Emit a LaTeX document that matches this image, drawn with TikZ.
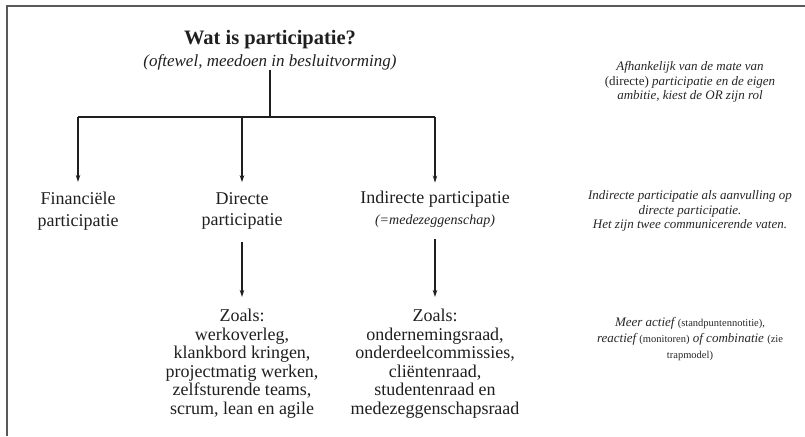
\documentclass[tikz,border=0pt]{standalone}
\usepackage{fontspec}
\setmainfont{Liberation Serif}
\usetikzlibrary{arrows.meta}

\begin{document}
\begin{tikzpicture}[x=1pt,y=-1pt,
    kader/.style={draw=black!65, line width=1.1pt},
    lijn/.style={draw=black!88, line width=1.6pt},
    pijl/.style={lijn, -{Stealth[length=7pt,width=4.5pt]}},
    hoofd/.style={align=center, inner sep=0pt, text=black!88, font=\fontsize{18}{18.5}\selectfont},
    zij/.style={align=center, inner sep=0pt, text=black!85, font=\fontsize{13}{14.5}\selectfont\itshape}]
  \useasboundingbox (0,0) rectangle (805,436);
  \draw [kader] (7,436) -- (7,6) -- (805,6); % frame

  \node [hoofd, font=\fontsize{20.5}{22}\selectfont\bfseries] (titel) at (270,40) {Wat is participatie?};
  \node [hoofd, font=\fontsize{17}{18}\selectfont\itshape] (sub) at (270,62) {(oftewel, meedoen in besluitvorming)};

  \coordinate (split) at (270,117);
  \coordinate (links) at (78,117);
  \coordinate (midden) at (242,117);
  \coordinate (rechts) at (435,117);

  \node [hoofd, font=\fontsize{18}{21.5}\selectfont] (fin) at (78,211) {Financiële\\participatie};
  \node [hoofd, font=\fontsize{18}{21.5}\selectfont] (dir) at (242,211) {Directe\\participatie};
  \node [hoofd, font=\fontsize{18}{21}\selectfont] (ind) at (435,209) {Indirecte participatie\\{\fontsize{14}{16}\selectfont\itshape (=medezeggenschap)}};

  \node [hoofd, anchor=north] (voorbdir) at (242,309) {Zoals:\\werkoverleg,\\klankbord kringen,\\projectmatig werken,\\zelfsturende teams,\\scrum, lean en agile};
  \node [hoofd, anchor=north] (voorbind) at (435,309) {Zoals:\\ondernemingsraad,\\onderdeelcommissies,\\cliëntenraad,\\studentenraad en\\medezeggenschapsraad};

  \node [zij] (rol) at (690,82) {Afhankelijk van de mate van\\{\upshape (directe)} participatie en de eigen\\ambitie, kiest de OR zijn rol};
  \node [zij] (vaten) at (690,211) {Indirecte participatie als aanvulling op\\directe participatie.\\Het zijn twee communicerende vaten.};
  \node [zij, font=\fontsize{13}{16}\selectfont\itshape] (trap) at (690,339) {Meer actief {\upshape\fontsize{10.5}{14}\selectfont (standpuntennotitie),}\\reactief {\upshape\fontsize{10.5}{14}\selectfont (monitoren)} of combinatie {\upshape\fontsize{10.5}{14}\selectfont (zie}\\{\upshape\fontsize{10.5}{14}\selectfont trapmodel)}};

  \draw [lijn] (sub) -- (split);
  \draw [lijn] (links) -- (rechts);
  \draw [pijl, shorten >=10pt] (links) -- (fin);
  \draw [pijl, shorten >=10pt] (midden) -- (dir);
  \draw [pijl, shorten >=8pt] (rechts) -- (ind);
  \draw [pijl, shorten <=12pt, shorten >=12pt] (dir) -- (voorbdir);
  \draw [pijl, shorten <=12pt, shorten >=12pt] (ind) -- (voorbind);
\end{tikzpicture}
\end{document}
